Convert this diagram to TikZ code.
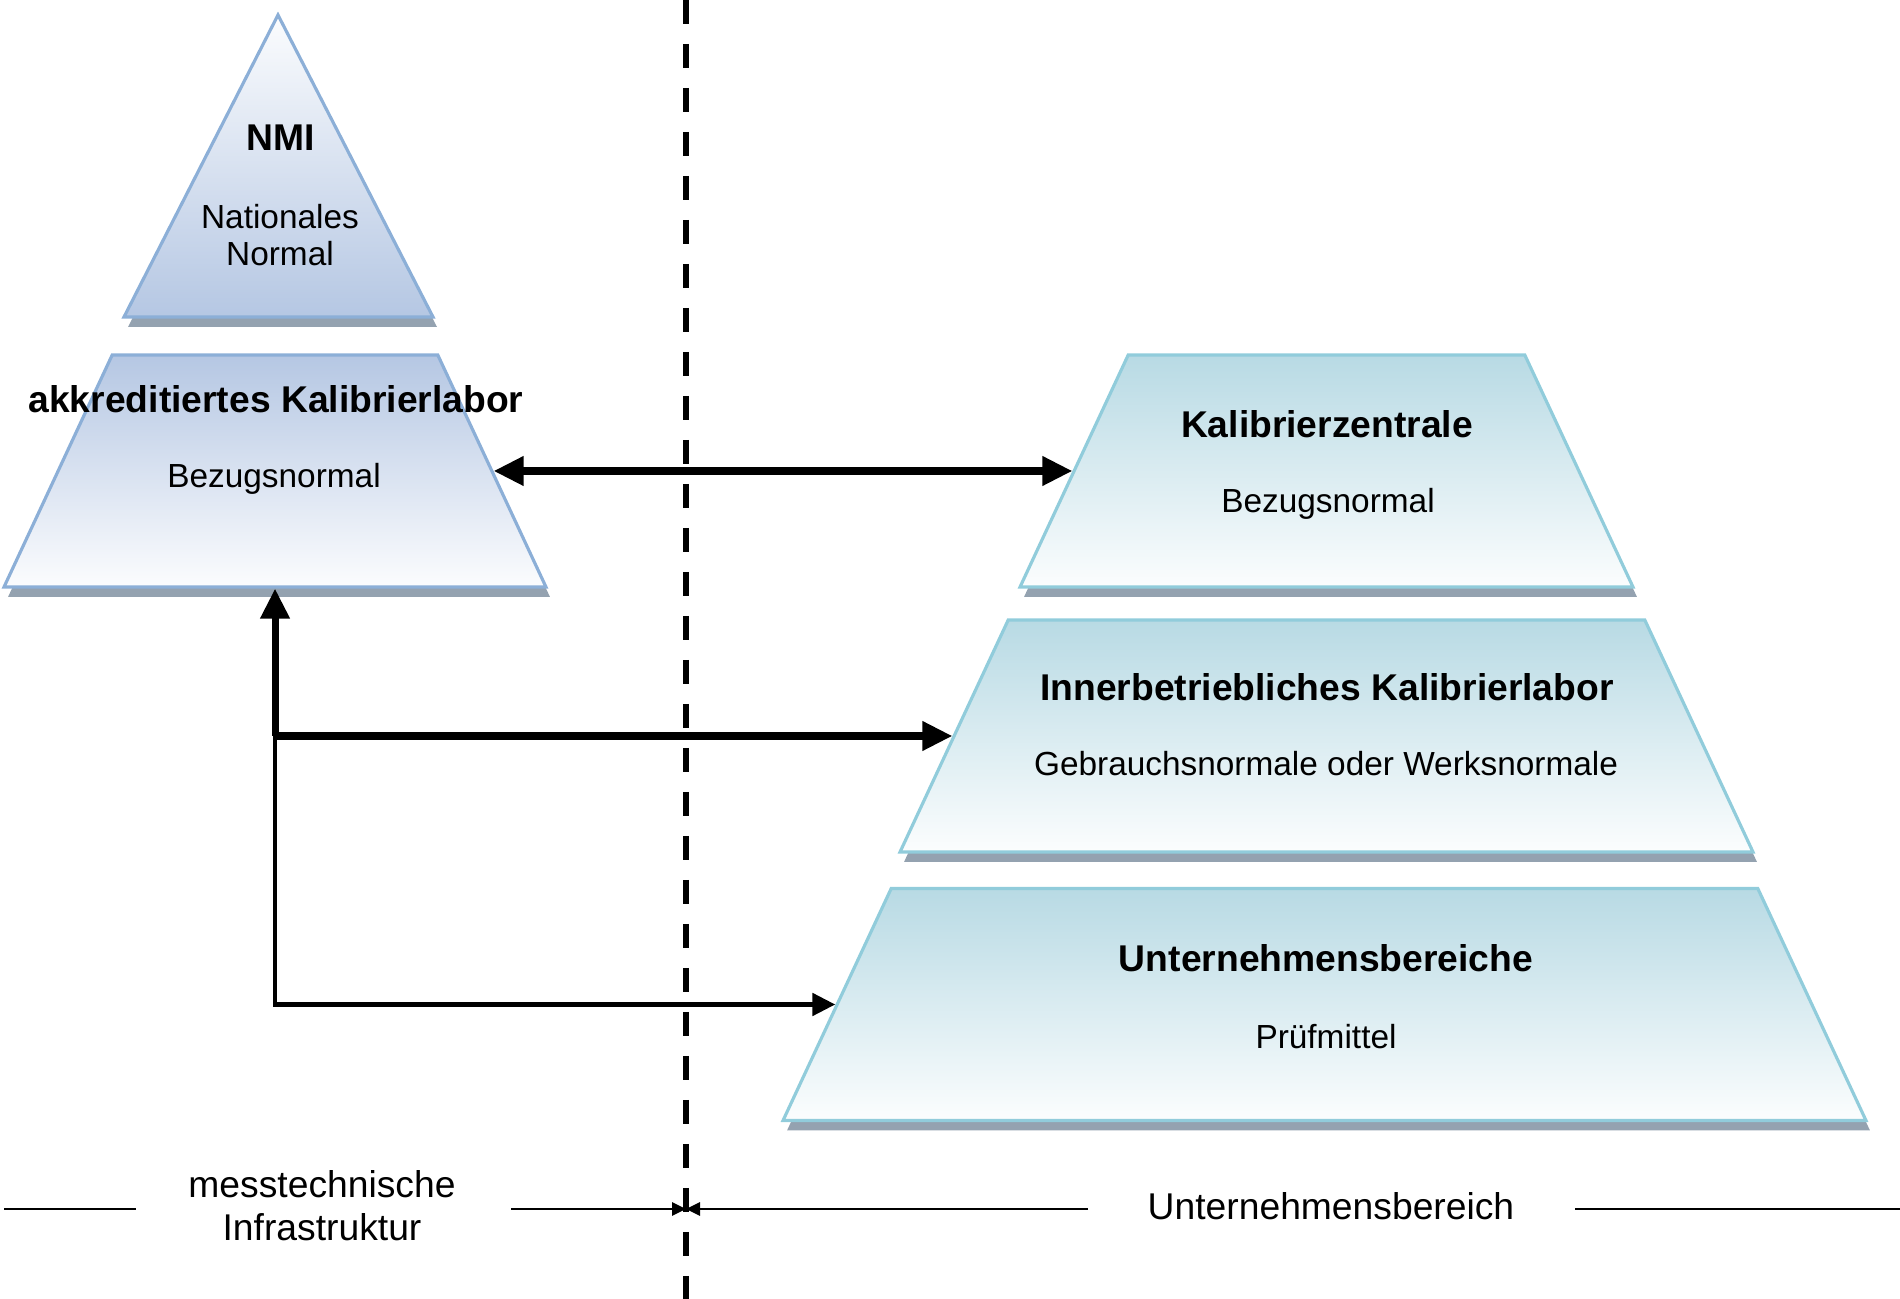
\documentclass[tikz,border=0pt]{standalone}
\usepackage{fontspec}
\setmainfont{Liberation Sans}
\usetikzlibrary{arrows.meta,positioning,shapes.geometric,shadows,calc}

\definecolor{infrafill}{RGB}{181,199,227}
\definecolor{infraline}{RGB}{140,175,215}
\definecolor{firmfill}{RGB}{184,218,228}
\definecolor{firmline}{RGB}{145,204,219}
\definecolor{basegray}{RGB}{148,162,176}

\begin{document}
\begin{tikzpicture}[
  x=0.1mm, y=0.1mm,
  >={Triangle[length=3mm,width=2.8mm]},
  slab/.style={drop shadow={shadow xshift=0.4mm, shadow yshift=-1mm, fill=basegray, opacity=1}},
  % body width = bottom width - 21.64mm (two slanted sides of 65 degrees)
  tier/.style={draw, trapezium, trapezium angle=65, inner sep=0pt, text height=23.2mm, text depth=0pt, line width=0.9pt, slab},
  infra/.style={tier, draw=infraline, top color=infrafill, bottom color=infrafill!5},
  firm/.style={tier, draw=firmline, top color=firmfill, bottom color=firmfill!5},
  peak/.style={draw=infraline, line width=0.9pt, top color=infrafill!5, bottom color=infrafill, slab},
  head/.style={font=\bfseries\fontsize{10.6}{12}\selectfont, text depth=0pt},
  subline/.style={font=\fontsize{9.5}{10.5}\selectfont, align=center, text depth=0pt},
  zone/.style={font=\fontsize{10.6}{12.3}\selectfont, align=center, text depth=0pt},
  main/.style={->, line width=2pt},
  twoway/.style={<->, line width=2pt},
  feed/.style={line width=1.4pt, -{Triangle[length=2.3mm,width=2.2mm]}},
  divider/.style={line width=1.7pt, dash pattern=on 2.4mm off 2mm},
  scale line/.style={line width=0.8pt},
  scale tip/.style={scale line, -{Triangle[length=1.4mm,width=1.3mm]}}
]
\useasboundingbox (0,0) rectangle (1900,-1299);

% left side: NMI and accredited lab
\draw[peak] (278,-15) -- (433,-317) -- (124,-317) -- cycle;
\node[head] (nmi) at (281,-138) {NMI};
\node[subline] (nmisub) at (280,-234.5) {Nationales\\Normal};

\node[infra, text width=32.56mm] (akk) at (275,-471) {};
\node[head] (akktitle) at (276,-399) {akkreditiertes Kalibrierlabor};
\node[subline] (akksub) at (274,-475) {Bezugsnormal};

% right side: company levels
\node[firm, text width=39.66mm] (zentrale) at (1326.5,-471) {};
\node[head] (zentraletitle) at (1327,-424) {Kalibrierzentrale};
\node[subline] (zentralesub) at (1328,-500) {Bezugsnormal};

\node[firm, text width=63.66mm] (werk) at (1326.5,-736) {};
\node[head] (werktitle) at (1327,-687) {Innerbetriebliches Kalibrierlabor};
\node[subline] (werksub) at (1326,-763) {Gebrauchsnormale oder Werksnormale};

\node[firm, text width=86.66mm] (bereiche) at (1324.5,-1004.5) {};
\node[head] (bereichetitle) at (1326,-958) {Unternehmensbereiche};
\node[subline] (bereichesub) at (1326,-1036) {Prüfmittel};

% divider
\coordinate (cut top) at (686,0);
\coordinate (cut bottom) at (686,-1299);
\draw[divider] (cut top) -- (cut bottom);

% Arrows
\draw[twoway] (akk.right side) -- (zentrale.left side);
\coordinate (split) at (akk.south |- werk.left side);
\draw[feed] (split) -- (akk.south |- bereiche.left side) -- (bereiche.left side);
\draw[main] (split) -- (akk.south);
\draw[main] (split) -- (werk.left side);

% scale at the bottom
\node[zone] (infratext) at (322,-1205.5) {messtechnische\\Infrastruktur};
\node[zone] (firmtext) at (1331,-1206) {Unternehmensbereich};
\coordinate (mid) at (686,-1209);
\coordinate (l0) at (4,-1209);
\coordinate (l1) at (136,-1209);
\coordinate (l2) at (511,-1209);
\coordinate (r2) at (1088,-1209);
\coordinate (r1) at (1575,-1209);
\coordinate (r0) at (1900,-1209);
\draw[scale line] (l0) -- (l1);
\draw[scale tip] (l2) -- (mid);
\draw[scale tip] (r2) -- (mid);
\draw[scale line] (r1) -- (r0);

\end{tikzpicture}
\end{document}
